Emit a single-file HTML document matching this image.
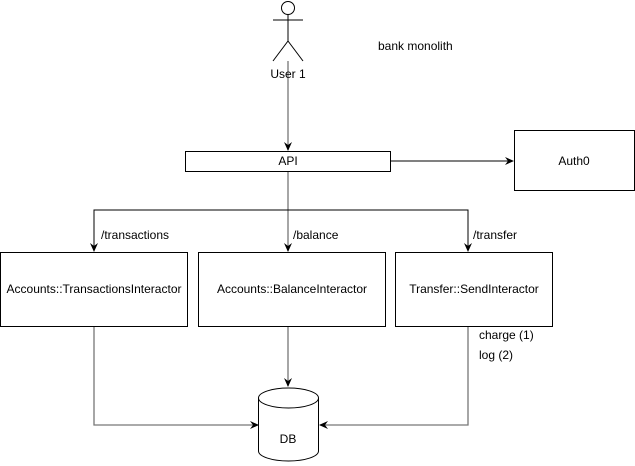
<!DOCTYPE html>
<html><head><meta charset="utf-8"><style>
html,body{margin:0;padding:0;background:#fff;}
svg{display:block;font-family:"Liberation Sans",Helvetica,Arial,sans-serif;}
</style></head><body>
<svg width="635" height="466" viewBox="0 0 635 466" xmlns="http://www.w3.org/2000/svg">
<defs>
<marker id="a" markerWidth="10" markerHeight="10" refX="8" refY="5" orient="auto" markerUnits="userSpaceOnUse">
<path d="M0,1 L9,5 L0,9 L3,5 Z" fill="#000"/>
</marker>
</defs>
<g fill="none" stroke="#000" stroke-width="1">
<circle cx="288" cy="8" r="6.5"/>
<line x1="273" y1="20" x2="303" y2="20"/>
<line x1="288" y1="15" x2="288" y2="41"/>
<line x1="288" y1="41" x2="273" y2="61"/>
<line x1="288" y1="41" x2="303" y2="61"/>
<rect x="185.5" y="151.5" width="205" height="20"/>
<rect x="514.5" y="130.5" width="120" height="60"/>
<rect x="0.5" y="252.5" width="187" height="74"/>
<rect x="198.5" y="252.5" width="187" height="74"/>
<rect x="395.5" y="252.5" width="157" height="74"/>
<path d="M258.5,398 A30,10 0 0 1 318.5,398 L318.5,451 A30,10 0 0 1 258.5,451 Z"/>
<path d="M258.5,398 A30,10 0 0 0 318.5,398"/>
</g>
<g fill="none" stroke="#000" stroke-width="1">
<line x1="288" y1="61" x2="288" y2="150" stroke="#777" stroke-width="1.3" marker-end="url(#a)"/>
<line x1="391" y1="161" x2="513" y2="161" marker-end="url(#a)"/>
<line x1="288" y1="172" x2="288" y2="251" stroke="#777" stroke-width="1.3" marker-end="url(#a)"/>
<path d="M288,210 L94,210 L94,251" marker-end="url(#a)"/>
<path d="M288,210 L468,210 L468,251" marker-end="url(#a)"/>
<line x1="288" y1="327" x2="288" y2="386" stroke="#777" stroke-width="1.3" marker-end="url(#a)"/>
<path d="M94,327 L94,425 L258,425" stroke="#777" stroke-width="1.3" marker-end="url(#a)"/>
<path d="M468,327 L468,425 L320,425" stroke="#777" stroke-width="1.3" marker-end="url(#a)"/>
</g>
<g font-size="12" fill="#000">
<text x="288" y="78" text-anchor="middle">User 1</text>
<text x="378" y="50">bank monolith</text>
<text x="288" y="165" text-anchor="middle">API</text>
<text x="574" y="165" text-anchor="middle">Auth0</text>
<text x="101" y="239">/transactions</text>
<text x="293" y="239">/balance</text>
<text x="473" y="239">/transfer</text>
<text x="94" y="293" text-anchor="middle">Accounts::TransactionsInteractor</text>
<text x="292" y="293" text-anchor="middle">Accounts::BalanceInteractor</text>
<text x="474" y="293" text-anchor="middle">Transfer::SendInteractor</text>
<text x="479" y="339">charge (1)</text>
<text x="479" y="359">log (2)</text>
<text x="288" y="443" text-anchor="middle">DB</text>
</g>
</svg>
</body></html>
